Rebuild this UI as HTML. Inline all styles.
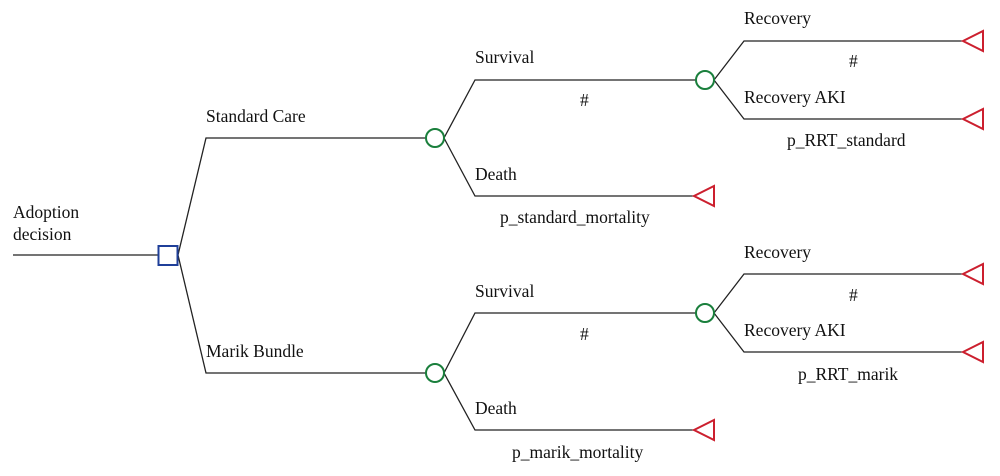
<!DOCTYPE html>
<html><head><meta charset="utf-8"><style>
html,body{margin:0;padding:0;background:#fff;width:1000px;height:476px;overflow:hidden}
svg text{font-family:"Liberation Serif",serif;font-size:17.5px;fill:#111}
</style></head><body>
<svg width="1000" height="476" viewBox="0 0 1000 476" xmlns="http://www.w3.org/2000/svg">
<g stroke="#222" stroke-width="1.3" fill="none">
<path d="M13 255H158"/>
<path d="M178 255L206 138H426"/>
<path d="M178 255L206 373H426"/>
<path d="M444 138L475 80H696"/>
<path d="M444 138L475 196H694"/>
<path d="M714 80L744 41H962"/>
<path d="M714 80L744 119H962"/>
<path d="M444 373L475 313H696"/>
<path d="M444 373L475 430H694"/>
<path d="M714 313L744 274H962"/>
<path d="M714 313L744 352H962"/>
</g>
<rect x="158.5" y="246" width="19" height="19" fill="#fff" stroke="#1f3f99" stroke-width="2"/>
<g fill="#fff" stroke="#1a7f3c" stroke-width="2">
<circle cx="435" cy="138" r="9"/><circle cx="705" cy="80" r="9"/>
<circle cx="435" cy="373" r="9"/><circle cx="705" cy="313" r="9"/>
</g>
<g fill="#fff" stroke="#cc1f2e" stroke-width="2">
<path d="M694 196L714 186V206Z"/><path d="M694 430L714 420V440Z"/>
<path d="M963 41L983 31V51Z"/><path d="M963 119L983 109V129Z"/>
<path d="M963 274L983 264V284Z"/><path d="M963 352L983 342V362Z"/>
</g>
<text x="13" y="218">Adoption</text><text x="13" y="240">decision</text>
<text x="206" y="122">Standard Care</text>
<text x="206" y="357">Marik Bundle</text>
<text x="475" y="63">Survival</text>
<text x="580" y="106">#</text>
<text x="475" y="180">Death</text>
<text x="500" y="223">p_standard_mortality</text>
<text x="475" y="297">Survival</text>
<text x="580" y="340">#</text>
<text x="475" y="414">Death</text>
<text x="512" y="458">p_marik_mortality</text>
<text x="744" y="24">Recovery</text>
<text x="849" y="67">#</text>
<text x="744" y="103">Recovery AKI</text>
<text x="787" y="146">p_RRT_standard</text>
<text x="744" y="258">Recovery</text>
<text x="849" y="301">#</text>
<text x="744" y="336">Recovery AKI</text>
<text x="798" y="380">p_RRT_marik</text>
</svg>
</body></html>
